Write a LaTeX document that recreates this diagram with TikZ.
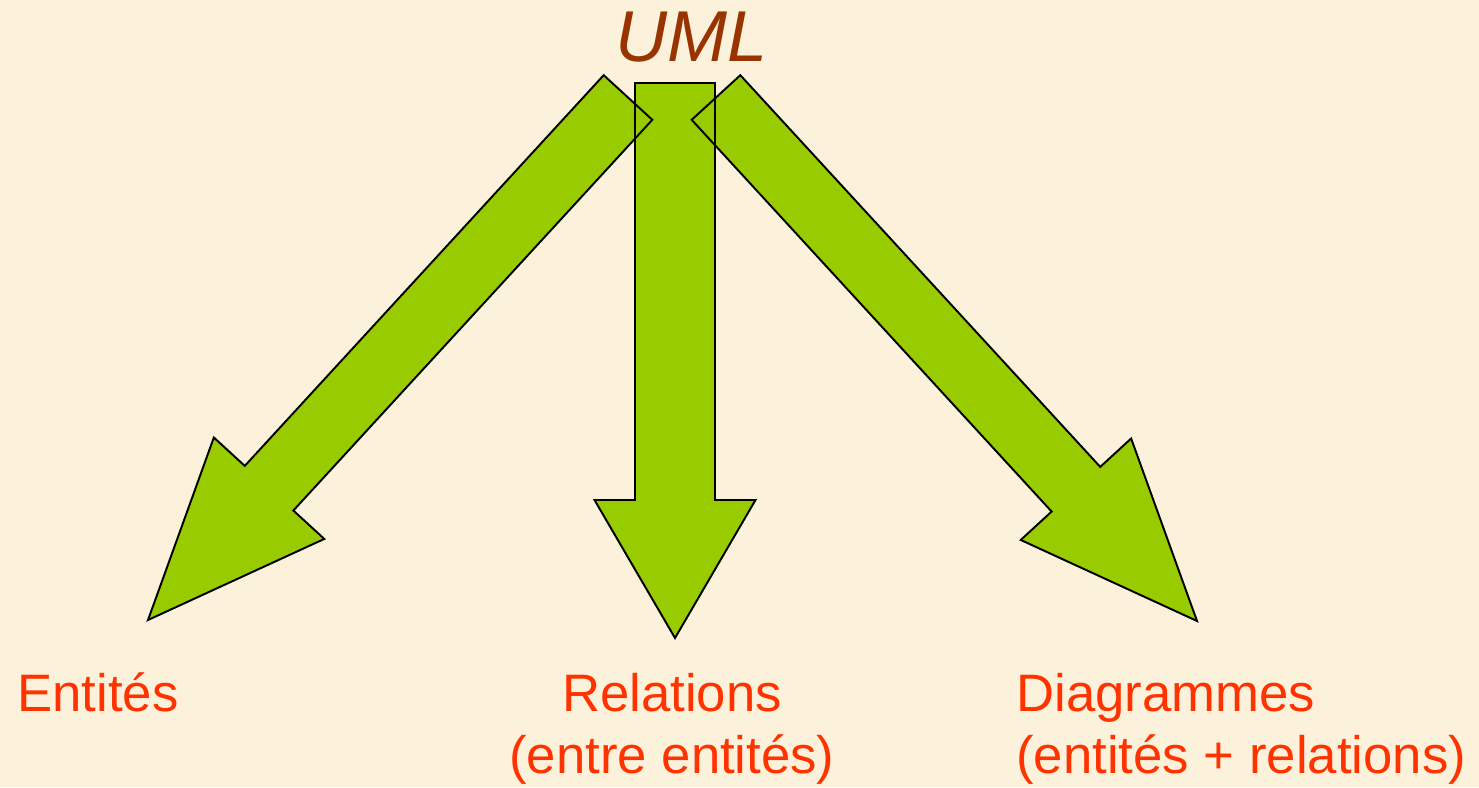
\documentclass[tikz,border=0pt]{standalone}
\usepackage{fontspec}
\setmainfont{Liberation Sans}
\usetikzlibrary{calc}
\definecolor{fond}{HTML}{FCF1DA}
\definecolor{vert}{HTML}{99CC00}
\definecolor{rouge}{HTML}{FF3300}
\definecolor{brun}{HTML}{993300}
\tikzset{
  label/.style={text=rouge, inner sep=0pt, font=\fontsize{30}{35.2}\selectfont},
  titre/.style={text=brun, inner sep=0pt, font=\fontsize{41}{48}\selectfont\itshape},
  flechefill/.style={fill=vert},
  flecheline/.style={draw=black, line width=1.1pt, line join=miter},
}
\begin{document}
\begin{tikzpicture}[x=0.02cm,y=-0.02cm]
      \fill[fond] (0,0) rectangle (1479,787);
      \useasboundingbox (0,0) rectangle (1479,787);
      \node[titre] (uml) at (692,37) {UML};
      \node[label, anchor=base west] (ent) at (17,711) {Entités};
      \node[label, anchor=base, align=center] (rel) at (672,773) {Relations\\(entre entités)};
      \node[label, anchor=base west, align=left] (diag) at (1016,773) {Diagrammes\\(entités + relations)};
      % queues et pointes des fleches
      \coordinate (tL) at (628,97.5);
      \coordinate (pL) at (148,620);
      \coordinate (tM) at (675,83);
      \coordinate (pM) at (675,638);
      \coordinate (tR) at (716,97.5);
      \coordinate (pR) at (1197,621);
      \coordinate (hL) at ($(pL)!3.58cm!(tL)$);
      \coordinate (hM) at ($(pM)!2.76cm!(tM)$);
      \coordinate (hR) at ($(pR)!3.58cm!(tR)$);
      \foreach \sty in {flechefill, flecheline}
        \foreach \a/\h/\b/\w/\H in {tM/hM/pM/0.80/1.61, tL/hL/pL/0.66/1.50, tR/hR/pR/0.66/1.50}
          \path[\sty] ($(\a)!\w cm!90:(\b)$) -- ($(\h)!\w cm!90:(\b)$)
            -- ($(\h)!\H cm!90:(\b)$) -- (\b) -- ($(\h)!\H cm!-90:(\b)$)
            -- ($(\h)!\w cm!-90:(\b)$) -- ($(\a)!\w cm!-90:(\b)$) -- cycle;
    \end{tikzpicture}
\end{document}
